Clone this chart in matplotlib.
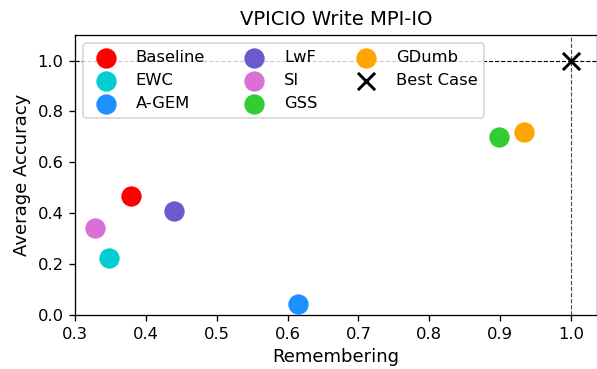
import matplotlib.pyplot as plt

methods = ['Baseline', 'EWC', 'A-GEM', 'LwF', 'SI', 'GSS', 'GDumb']
remembering = [0.379, 0.348, 0.615, 0.440, 0.328, 0.898, 0.934]
accuracy = [0.467, 0.224, 0.043, 0.408, 0.341, 0.698, 0.718]
colors = ['red', 'darkturquoise', 'dodgerblue', 'slateblue', 'orchid', 'limegreen', 'orange']

dpi = 118
fig = plt.figure(figsize=(597 / dpi, 369 / dpi), dpi=dpi)
ax = fig.add_axes([0.126, 0.146, 0.874, 0.759])

ax.axhline(1.0, color='black', linestyle='--', linewidth=0.7, zorder=1)
ax.axvline(1.0, color='black', linestyle='--', linewidth=0.7, alpha=0.7, zorder=1)

for m, x, y, c in zip(methods, remembering, accuracy, colors):
    ax.scatter(x, y, s=130, color=c, label=m, zorder=3)
ax.scatter(1.0, 1.0, s=110, marker='x', color='black', linewidths=1.8, label='Best Case', zorder=3)

ax.set_xlim(0.3, 1.037)
ax.set_ylim(0.0, 1.1)
ax.set_xlabel('Remembering', fontsize=11)
ax.set_ylabel('Average Accuracy', fontsize=11)
ax.set_title('VPICIO Write MPI-IO')
ax.legend(ncol=3, loc='upper left')

fig.savefig('out.png', dpi=dpi)
